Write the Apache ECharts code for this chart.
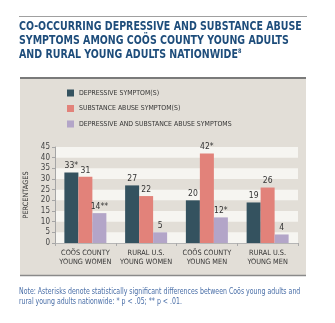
<!DOCTYPE html>
<html><head><meta charset="utf-8">
<script src="https://cdn.jsdelivr.net/npm/echarts@6/dist/echarts.min.js"></script>
<style>html,body{margin:0;padding:0;background:#fff}#c{width:335px;height:323px}</style>
</head><body><div id="c"></div>
<script>
const categories = ['COÖS COUNTY\nYOUNG WOMEN', 'RURAL U.S.\nYOUNG WOMEN', 'COÖS COUNTY\nYOUNG MEN', 'RURAL U.S.\nYOUNG MEN'];
const seriesNames = ['DEPRESSIVE SYMPTOM(S)', 'SUBSTANCE ABUSE SYMPTOM(S)', 'DEPRESSIVE AND SUBSTANCE ABUSE SYMPTOMS'];
const depressive = [33, 27, 20, 19];
const depressiveMarks = ['*', '', '', ''];
const substance = [31, 22, 42, 26];
const substanceMarks = ['', '', '*', ''];
const both = [14, 5, 12, 4];
const bothMarks = ['**', '', '*', ''];
const yTicks = [0, 5, 10, 15, 20, 25, 30, 35, 40, 45];

const FONT = '"Liberation Sans Narrow", "DejaVu Sans Condensed", sans-serif';
const colors = ['#34525f', '#e2827a', '#b3a5c8'];

const chart = echarts.init(document.getElementById('c'), null, {renderer: 'canvas'});

function mkSeries(i, data, marks) {
  return {
    name: seriesNames[i], type: 'bar', data: data, barWidth: 14, barGap: '0%',
    itemStyle: {color: colors[i]},
    label: {show: true, position: 'top', distance: 2, color: '#333', fontSize: 8.5, fontFamily: FONT,
      formatter: p => p.value + marks[p.dataIndex]}
  };
}

chart.setOption({
  backgroundColor: '#ffffff',
  animation: false,
  graphic: [
    {type: 'line', shape: {x1: 19, y1: 16.5, x2: 307, y2: 16.5}, style: {stroke: '#a0a0a0', lineWidth: 1}, z: -10},
    {type: 'rect', shape: {x: 20, y: 77, width: 286, height: 199}, style: {fill: '#e2ded7'}, z: -20},
    {type: 'line', shape: {x1: 20, y1: 78, x2: 306, y2: 78}, style: {stroke: '#7a7a7a', lineWidth: 2}, z: -10},
    {type: 'line', shape: {x1: 20, y1: 275.5, x2: 306, y2: 275.5}, style: {stroke: '#8a8a8a', lineWidth: 1.5}, z: -10},
    {type: 'text', x: 19, y: 20, scaleX: 0.915, style: {
      text: 'CO-OCCURRING DEPRESSIVE AND SUBSTANCE ABUSE\nSYMPTOMS AMONG COÖS COUNTY YOUNG ADULTS\nAND RURAL YOUNG ADULTS NATIONWIDE{s|8}',
      font: 'bold 11.5px ' + FONT, fill: '#1e4d7b', lineHeight: 14.2,
      rich: {s: {fontSize: 6, fontWeight: 'bold', fontFamily: FONT, fill: '#1e4d7b', verticalAlign: 'top', lineHeight: 14.2, padding: [0, 0, 5, 0]}}
    }},
    {type: 'text', x: 19, y: 287, scaleX: 0.835, style: {
      text: 'Note: Asterisks denote statistically significant differences between Coös young adults and\nrural young adults nationwide: * p < .05; ** p < .01.',
      font: '8.3px ' + FONT, fill: '#4a6fa8', lineHeight: 10
    }}
  ],
  legend: {
    orient: 'vertical', left: 67, top: 89.5, padding: 0, itemWidth: 7, itemHeight: 7, itemGap: 8.5,
    icon: 'rect', data: seriesNames,
    textStyle: {fontSize: 6.9, fontFamily: FONT, color: '#333', padding: [0, 0, 0, 0]}
  },
  grid: {left: 55, right: 37, top: 147, bottom: 80, containLabel: false},
  xAxis: {
    type: 'category', data: categories,
    axisLine: {lineStyle: {color: '#b5b5b5'}},
    axisTick: {show: true, length: 3, lineStyle: {color: '#aaa'}},
    axisLabel: {interval: 0, fontSize: 7.3, fontFamily: FONT, color: '#333', lineHeight: 9.5, margin: 5}
  },
  yAxis: {
    type: 'value', min: 0, max: 45, interval: 5,
    name: 'PERCENTAGES', nameLocation: 'middle', nameRotate: 90, nameGap: 20,
    nameTextStyle: {fontSize: 7.3, fontFamily: FONT, color: '#333'},
    axisLine: {show: true, lineStyle: {color: '#a5a5a5'}},
    axisTick: {show: true, length: 3, lineStyle: {color: '#a5a5a5'}},
    axisLabel: {fontSize: 8, fontFamily: FONT, color: '#444', margin: 5,
      formatter: v => yTicks.includes(v) ? String(v) : ''},
    splitLine: {show: false},
    splitArea: {show: true, areaStyle: {color: ['#f6f5f1', 'rgba(0,0,0,0)']}}
  },
  series: [
    mkSeries(0, depressive, depressiveMarks),
    mkSeries(1, substance, substanceMarks),
    mkSeries(2, both, bothMarks)
  ]
});
</script></body></html>
